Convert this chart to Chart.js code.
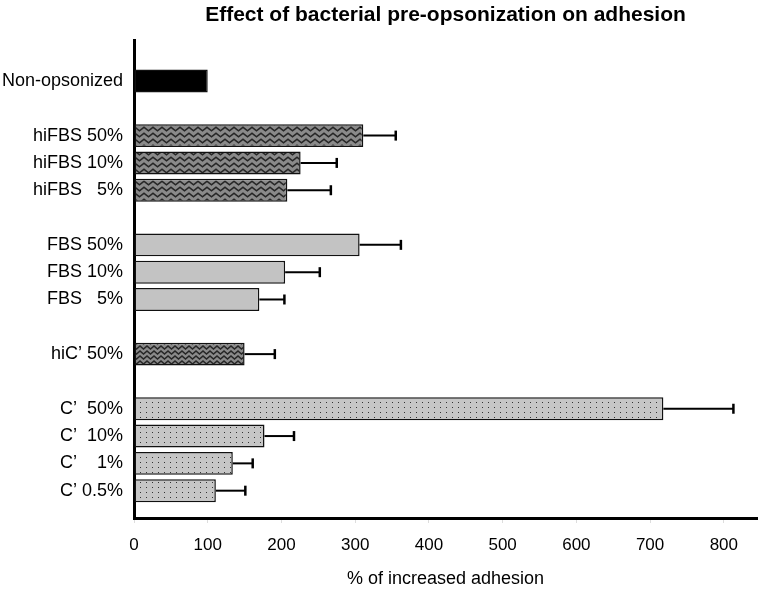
<!DOCTYPE html>
<html>
<head>
<meta charset="utf-8">
<script src="https://cdn.jsdelivr.net/npm/chart.js@4/dist/chart.umd.min.js"></script>
<style>
  html, body { margin: 0; padding: 0; background: #fff; }
  #wrap { width: 760px; height: 591px; }
</style>
</head>
<body>
<div id="wrap"><canvas id="adhesionChart" width="760" height="591"></canvas></div>
<script>
// rows top to bottom, '' = spacer row between groups
const categories = [
  "Non-opsonized", "",
  "hiFBS 50%", "hiFBS 10%", "hiFBS   5%", "",
  "FBS 50%", "FBS 10%", "FBS   5%", "",
  "hiC\u2019 50%", "",
  "C\u2019  50%", "C\u2019  10%", "C\u2019    1%", "C\u2019 0.5%",
];
const adhesion = [100, null, 311, 226, 208, null, 306, 205, 170, null, 150, null, 718, 177, 134, 111];
const errorPlus = [0, null, 44, 49, 59, null, 56, 47, 34, null, 41, null, 95, 40, 27, 40];
const xTicks = [0, 100, 200, 300, 400, 500, 600, 700, 800];

const FONT = "'Liberation Sans', Arial, sans-serif";

function wavePattern(w, h, bg, fg, lw) {
  const c = document.createElement("canvas");
  c.width = w;
  c.height = h;
  const g = c.getContext("2d");
  g.fillStyle = bg;
  g.fillRect(0, 0, w, h);
  g.strokeStyle = fg;
  g.lineWidth = lw;
  g.beginPath();
  g.moveTo(-w / 2, h * 0.8);
  g.lineTo(0, h * 0.2);
  g.lineTo(w / 2, h * 0.8);
  g.lineTo(w, h * 0.2);
  g.lineTo(w * 1.5, h * 0.8);
  g.stroke();
  return g.createPattern(c, "repeat");
}

function dotPattern(w, h, bg, fg) {
  const c = document.createElement("canvas");
  c.width = w;
  c.height = h;
  const g = c.getContext("2d");
  g.fillStyle = bg;
  g.fillRect(0, 0, w, h);
  g.fillStyle = fg;
  g.fillRect(2, 2, 1, 1);
  return g.createPattern(c, "repeat");
}

const fills = {
  none: "#000000",
  hiFBS: wavePattern(9, 6, "#8a8a8a", "#262626", 1.6),
  FBS: "#c3c3c3",
  hiC: wavePattern(7, 5, "#8a8a8a", "#262626", 1.5),
  C: dotPattern(6, 5, "#c6c6c6", "#333333"),
};

function fillFor(label) {
  if (label.startsWith("Non")) return fills.none;
  if (label.startsWith("hiFBS")) return fills.hiFBS;
  if (label.startsWith("FBS")) return fills.FBS;
  if (label.startsWith("hiC")) return fills.hiC;
  return fills.C;
}

const rows = categories
  .map((label, i) => ({ label, i }))
  .filter((r) => adhesion[r.i] !== null);

const errorBars = {
  id: "errorBars",
  afterDatasetsDraw(chart) {
    const meta = chart.getDatasetMeta(0);
    const xScale = chart.scales.x;
    const ctx = chart.ctx;
    ctx.save();
    ctx.strokeStyle = "#000";
    meta.data.forEach((bar, k) => {
      const row = rows[k].i;
      const err = errorPlus[row];
      if (!err) return;
      const x0 = xScale.getPixelForValue(adhesion[row]);
      const x1 = xScale.getPixelForValue(adhesion[row] + err);
      ctx.lineWidth = 2;
      ctx.beginPath();
      ctx.moveTo(x0, bar.y);
      ctx.lineTo(x1, bar.y);
      ctx.stroke();
      ctx.lineWidth = 2.5;
      ctx.beginPath();
      ctx.moveTo(x1, bar.y - 5);
      ctx.lineTo(x1, bar.y + 5);
      ctx.stroke();
    });
    ctx.restore();
  },
};

new Chart(document.getElementById("adhesionChart"), {
  type: "bar",
  data: {
    datasets: [
      {
        data: rows.map((r) => ({ x: adhesion[r.i], y: r.i })),
        backgroundColor: rows.map((r) => fillFor(r.label)),
        borderColor: "#111",
        borderWidth: 1.5,
        borderSkipped: false,
        categoryPercentage: 1,
        barPercentage: 0.84,
      },
    ],
  },
  options: {
    indexAxis: "y",
    responsive: false,
    animation: false,
    devicePixelRatio: 1,
    layout: { padding: { left: 0, right: 3, top: 0, bottom: 0 } },
    plugins: {
      legend: { display: false },
      tooltip: { enabled: false },
      title: {
        display: true,
        fullSize: false,
        text: "Effect of bacterial pre-opsonization on adhesion",
        color: "#000",
        font: { family: FONT, size: 21, weight: "bold" },
        padding: { top: 3, bottom: 11.8 },
      },
    },
    scales: {
      x: {
        type: "linear",
        min: 0,
        max: 845,
        afterBuildTicks: (scale) => {
          scale.ticks = xTicks.map((v) => ({ value: v }));
        },
        afterFit: (scale) => {
          scale.height = 73;
        },
        border: { display: true, color: "#000", width: 3 },
        grid: {
          display: true,
          drawOnChartArea: false,
          drawTicks: true,
          tickLength: 5,
          color: "#dddddd",
        },
        ticks: {
          color: "#000",
          padding: 12,
          maxRotation: 0,
          font: { family: FONT, size: 17 },
        },
        title: {
          display: true,
          text: "% of increased adhesion",
          color: "#000",
          font: { family: FONT, size: 18 },
          padding: { top: 4, bottom: 1 },
        },
      },
      y: {
        type: "linear",
        reverse: true,
        offset: false,
        min: -1.5,
        max: 16,
        afterBuildTicks: (scale) => {
          scale.ticks = categories.map((c, i) => ({ value: i }));
        },
        afterFit: (scale) => {
          scale.width = 134;
        },
        border: { display: true, color: "#000", width: 3 },
        grid: { display: false, drawTicks: false },
        ticks: {
          color: "#000",
          padding: 11,
          autoSkip: false,
          font: { family: FONT, size: 18 },
          callback: (v) => categories[v] ?? "",
        },
      },
    },
  },
  plugins: [errorBars],
});
</script>
</body>
</html>
